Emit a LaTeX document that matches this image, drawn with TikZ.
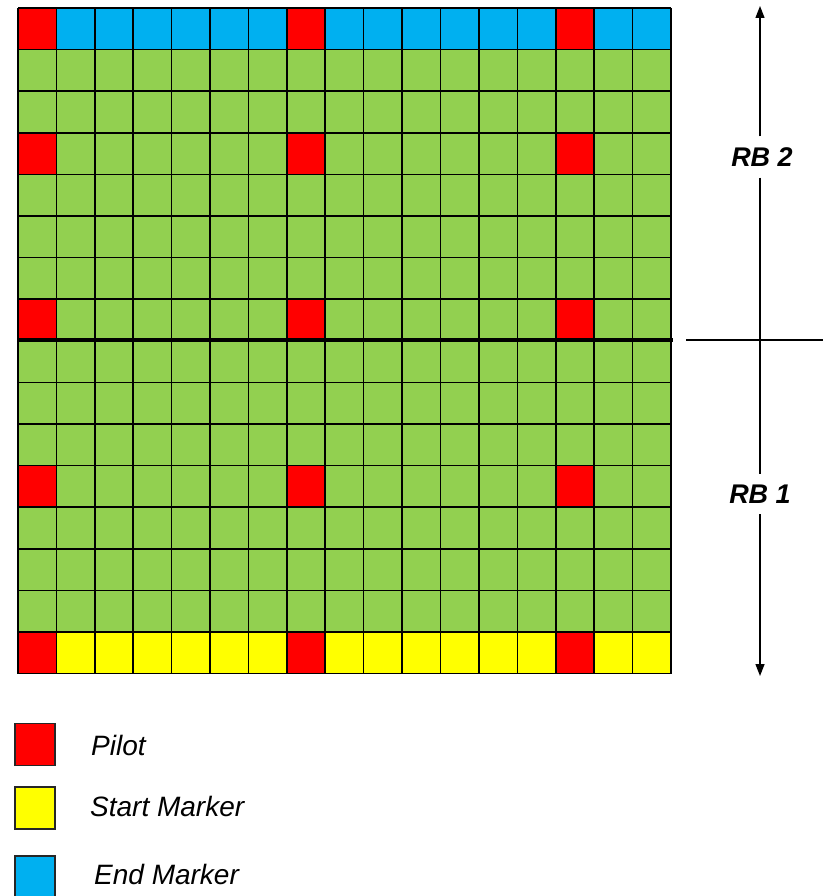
\documentclass[tikz,border=0pt]{standalone}
\usepackage{fontspec}
\setmainfont{Liberation Sans}
\usetikzlibrary{arrows.meta}
\definecolor{cgreen}{RGB}{146,208,80}
\definecolor{cred}{RGB}{255,0,0}
\definecolor{cblue}{RGB}{0,176,240}
\definecolor{cyellow}{RGB}{255,255,0}
\tikzset{
  gridline/.style={draw=black,line width=1.6pt},
  legbox/.style={draw=black!85,line width=1.5pt,minimum width=40pt,minimum height=42pt,inner sep=0pt},
  legtext/.style={anchor=west,font=\itshape\fontsize{28}{30}\selectfont,inner sep=0pt},
  rblabel/.style={font=\bfseries\itshape\fontsize{27}{30}\selectfont,fill=white,inner xsep=2pt,inner ysep=11pt},
  rbarrow/.style={line width=1.3pt,-{Triangle[length=12pt,width=9pt]}}
}
\begin{document}
\begin{tikzpicture}[x=1pt,y=-1pt]
\useasboundingbox (0,0) rectangle (823,896);
\def\gx{18}\def\gy{8}\def\cw{38.41}\def\ch{41.6}
% cells
\foreach \r in {0,...,15}{
  \foreach \c in {0,...,16}{
    \pgfmathsetmacro{\xa}{\gx+\c*\cw}
    \pgfmathsetmacro{\ya}{\gy+\r*\ch}
    \def\col{cgreen}
    \ifnum\r=0 \def\col{cblue}\fi
    \ifnum\r=15 \def\col{cyellow}\fi
    \pgfmathtruncatemacro{\isp}{((\c==0)||(\c==7)||(\c==14))&&((\r==0)||(\r==3)||(\r==7)||(\r==11)||(\r==15))}
    \ifnum\isp=1 \def\col{cred}\fi
    \fill[\col] (\xa,\ya) rectangle ++(\cw,\ch);
  }
}
% grid lines
\foreach \c in {0,...,17}{
  \pgfmathsetmacro{\xa}{\gx+\c*\cw}
  \draw[gridline] (\xa,\gy) -- (\xa,\gy+16*\ch);
}
\foreach \r in {0,...,16}{
  \pgfmathsetmacro{\ya}{\gy+\r*\ch}
  \draw[gridline] (\gx,\ya) -- (\gx+17*\cw,\ya);
}
% RB boundary
\coordinate (bl) at (18,340);
\coordinate (br) at (673,340);
\draw[line width=3.2pt] (bl) -- (br);
\coordinate (hl) at (686,340);
\coordinate (hr) at (823,340);
\draw[line width=1.3pt] (hl) -- (hr);
% RB arrows
\node[rblabel] (rb2) at (762,157) {RB 2};
\node[rblabel] (rb1) at (760,494) {RB 1};
\coordinate (top) at (760,6);
\coordinate (bot) at (760,676);
\draw[rbarrow] (rb2.north -| top) -- (top);
\draw[line width=1.3pt] (rb2.south -| top) -- (rb1.north -| top);
\draw[rbarrow] (rb1.south -| bot) -- (bot);
% legend
\node[legbox,fill=cred] (lp) at (35,744.5) {};
\node[legbox,fill=cyellow] (ls) at (35,808) {};
\node[legbox,fill=cblue] (le) at (35,877) {};
\node[legtext] (tp) at (91,745) {Pilot};
\node[legtext] (ts) at (90,806) {Start Marker};
\node[legtext] (te) at (94,874) {End Marker};
\end{tikzpicture}
\end{document}
